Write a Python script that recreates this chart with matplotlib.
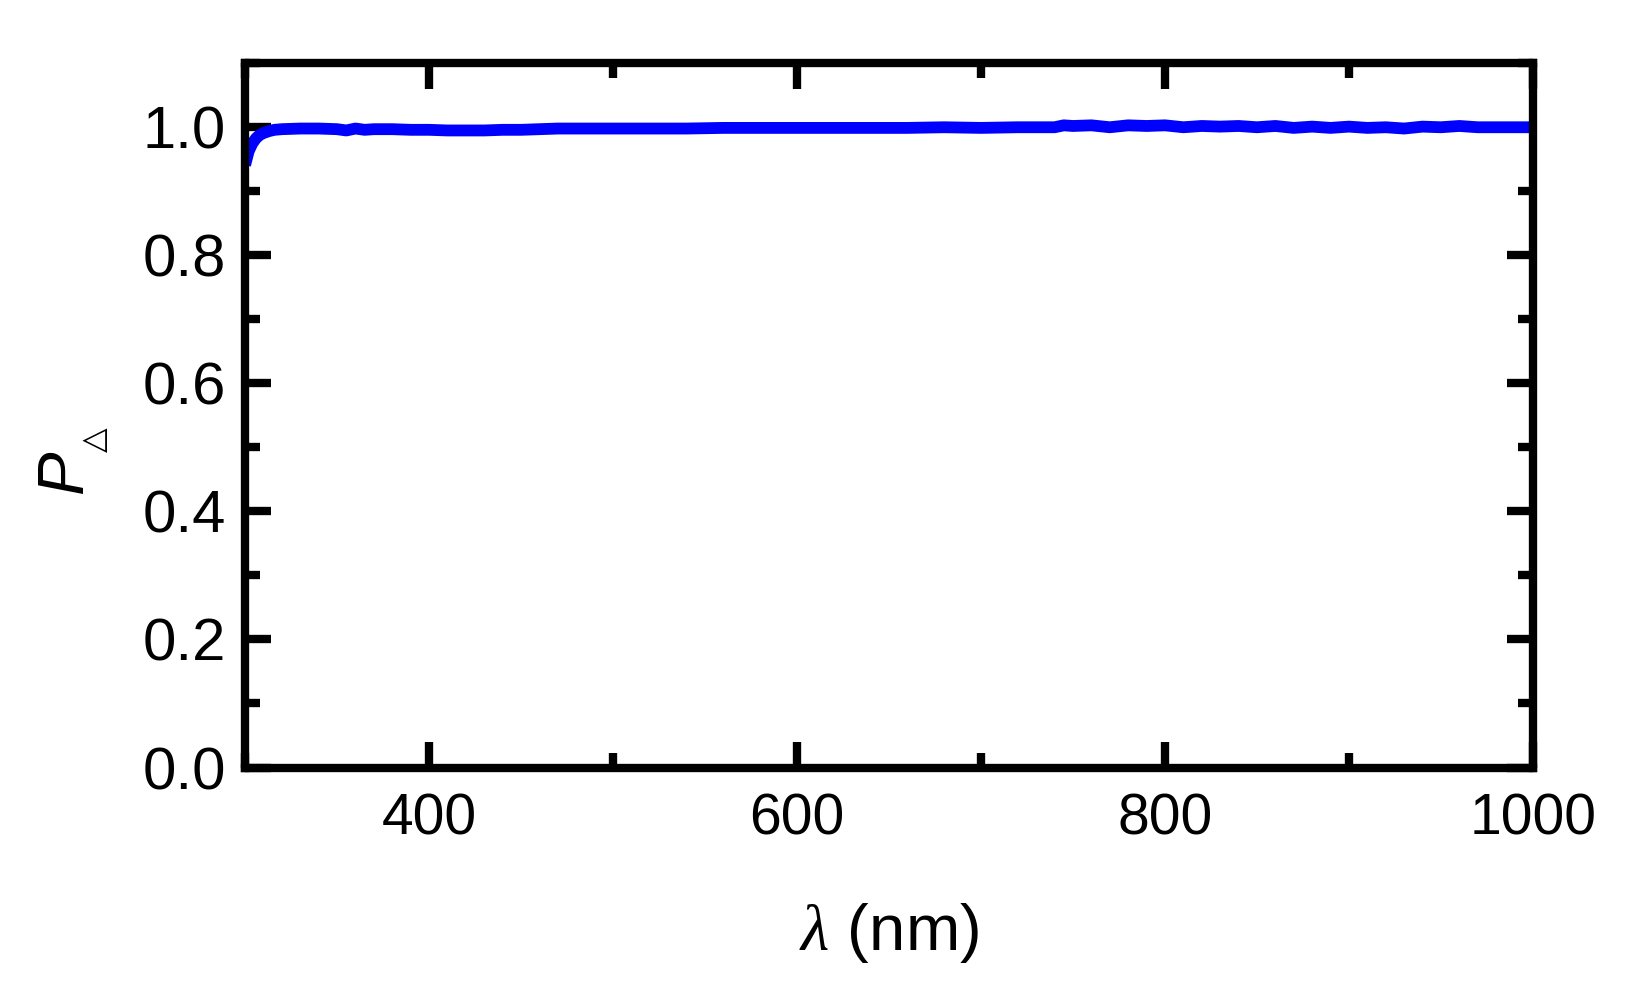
import matplotlib
matplotlib.use("Agg")
import matplotlib.pyplot as plt
from matplotlib.ticker import MultipleLocator

plt.rcParams["font.family"] = ["Liberation Sans", "DejaVu Sans"]
plt.rcParams["mathtext.fontset"] = "custom"
plt.rcParams["mathtext.rm"] = "Liberation Sans"
plt.rcParams["mathtext.it"] = "Liberation Sans:italic"
plt.rcParams["mathtext.cal"] = "Liberation Serif:italic"

# 读图得到的数据（波长 nm, P_Δ）
wavelength = [300, 302, 304, 306, 308, 310, 313, 316, 320, 330, 340, 350, 355, 360,
              365, 370, 380, 390, 400, 410, 420, 430, 440, 450, 460, 470, 480, 500,
              520, 540, 560, 580, 600, 620, 640, 660, 680, 700, 720, 740, 745, 750,
              760, 770, 780, 790, 800, 810, 820, 830, 840, 850, 860, 870, 880, 890,
              900, 910, 920, 930, 940, 950, 960, 970, 980, 990, 1000]
p_delta = [0.940, 0.962, 0.974, 0.982, 0.987, 0.990, 0.993, 0.995, 0.996, 0.997,
           0.997, 0.996, 0.994, 0.997, 0.995, 0.996, 0.996, 0.995, 0.995, 0.994,
           0.994, 0.994, 0.995, 0.995, 0.996, 0.997, 0.997, 0.997, 0.997, 0.997,
           0.998, 0.998, 0.998, 0.998, 0.998, 0.998, 0.999, 0.998, 0.999, 0.999,
           1.002, 1.001, 1.002, 0.999, 1.002, 1.001, 1.002, 0.999, 1.001, 1.000,
           1.001, 0.999, 1.001, 0.998, 1.000, 0.998, 1.000, 0.998, 0.999, 0.997,
           1.000, 0.999, 1.001, 0.999, 0.999, 0.999, 0.999]

fig = plt.figure(figsize=(16.36, 10.02), dpi=100)
ax = fig.add_axes([0.1498, 0.2340, 0.7872, 0.7036])

ax.plot(wavelength, p_delta, color="#0000FF", linewidth=8.5, solid_capstyle="butt")

ax.set_xlim(300, 1000)
ax.set_ylim(0, 1.1)
ax.xaxis.set_minor_locator(MultipleLocator(100))
ax.yaxis.set_minor_locator(MultipleLocator(0.1))
ax.set_xticks([400, 600, 800, 1000])
ax.set_yticks([0.0, 0.2, 0.4, 0.6, 0.8, 1.0])
ax.set_yticklabels(["0.0", "0.2", "0.4", "0.6", "0.8", "1.0"])

for s in ax.spines.values():
    s.set_linewidth(6)
ax.tick_params(which="both", direction="in", top=True, right=True, width=6)
ax.tick_params(which="major", length=19)
ax.tick_params(which="minor", length=11)
ax.tick_params(axis="x", pad=18, labelsize=41)
ax.tick_params(axis="y", pad=14, labelsize=43)

ax.set_xlabel(r"$\mathcal{\lambda}$ (nm)", fontsize=47)
ax.xaxis.set_label_coords(0.5, -0.19)

# 纵轴标签：斜体 P 加小三角下标
fig.text(0.0501, 0.530, "P", fontsize=47, fontstyle="italic", rotation=90,
         rotation_mode="anchor", ha="center", va="baseline")
fig.text(0.0585, 0.561, "\u25b3", fontsize=23, rotation=90,
         family=["DejaVu Sans"], ha="center", va="center")

fig.savefig("out.png", dpi=100)
